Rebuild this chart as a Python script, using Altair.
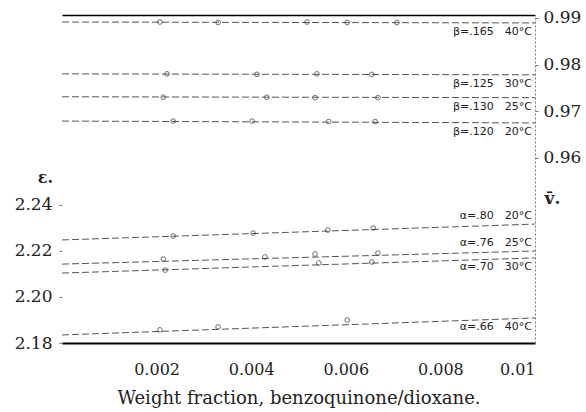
import altair as alt
import pandas as pd

X_MIN, X_MAX = 0.0, 0.01

# ---- specific volume (v-bar), right axis ----
v_temps = ["40°C", "30°C", "25°C", "20°C"]
v_beta = [".165", ".125", ".130", ".120"]
v_left = [0.9891, 0.9780, 0.9731, 0.9679]
v_right = [0.9889, 0.9778, 0.9729, 0.9675]

v_pt_temp = ["40°C"] * 5 + ["30°C"] * 4 + ["25°C"] * 4 + ["20°C"] * 4
v_pt_x = [0.00207, 0.00330, 0.00518, 0.00603, 0.00708,
          0.00222, 0.00412, 0.00539, 0.00655,
          0.00214, 0.00433, 0.00535, 0.00668,
          0.00235, 0.00402, 0.00564, 0.00662]
v_pt_val = [0.9891, 0.9890, 0.9891, 0.9890, 0.9890,
            0.9780, 0.9779, 0.9780, 0.9779,
            0.9730, 0.9730, 0.9729, 0.9729,
            0.9679, 0.9679, 0.9678, 0.9678]

# ---- dielectric constant (epsilon), left axis ----
e_temps = ["20°C", "25°C", "30°C", "40°C"]
e_alpha = [".80", ".76", ".70", ".66"]
e_left = [2.2248, 2.2143, 2.2104, 2.1835]
e_right = [2.2317, 2.2200, 2.2170, 2.1909]
e_label_above = [True, True, False, False]

e_pt_temp = ["20°C"] * 4 + ["25°C"] * 4 + ["30°C"] * 3 + ["40°C"] * 3
e_pt_x = [0.00235, 0.00404, 0.00562, 0.00658,
          0.00214, 0.00429, 0.00535, 0.00668,
          0.00218, 0.00543, 0.00655,
          0.00207, 0.00330, 0.00603]
e_pt_val = [2.2265, 2.2278, 2.2291, 2.2300,
            2.2165, 2.2174, 2.2187, 2.2191,
            2.2117, 2.2148, 2.2152,
            2.1857, 2.1870, 2.1900]

x_ticks = [0.002, 0.004, 0.006, 0.008, 0.01]
v_ticks = [0.96, 0.97, 0.98, 0.99]
e_ticks = [2.18, 2.20, 2.22, 2.24]

SERIF = "DejaVu Serif"
LINE_COLOR = "#555555"

v_lines = pd.DataFrame({"temp": v_temps * 2,
                        "x": [X_MIN] * 4 + [X_MAX] * 4,
                        "v": v_left + v_right})
v_pts = pd.DataFrame({"temp": v_pt_temp, "x": v_pt_x, "v": v_pt_val})
v_lab = pd.DataFrame({"x": [X_MAX] * 4, "v": v_right,
                      "label": [f"β={b}\u2003{t}" for b, t in zip(v_beta, v_temps)]})

e_lines = pd.DataFrame({"temp": e_temps * 2,
                        "x": [X_MIN] * 4 + [X_MAX] * 4,
                        "eps": e_left + e_right})
e_pts = pd.DataFrame({"temp": e_pt_temp, "x": e_pt_x, "eps": e_pt_val})
e_lab = pd.DataFrame({"x": [X_MAX] * 4, "eps": e_right, "above": e_label_above,
                      "label": [f"α={a}\u2003{t}" for a, t in zip(e_alpha, e_temps)]})

x_scale = alt.Scale(domain=[X_MIN, X_MAX], nice=False, zero=False)

X_top = alt.X("x:Q", scale=x_scale,
              axis=alt.Axis(orient="top", labels=False, ticks=False, grid=False,
                            domain=True, domainColor="black", domainWidth=1.5, title=None))
X_bot = alt.X("x:Q", scale=x_scale,
              axis=alt.Axis(orient="bottom", values=x_ticks,
                            labelExpr="datum.value == 0.01 ? '0.01' : format(datum.value, '.3f')",
                            labelFont=SERIF, labelFontSize=16, labelColor="#222",
                            labelPadding=18, ticks=False, grid=False,
                            domain=True, domainColor="black", domainWidth=2,
                            title="Weight fraction, benzoquinone/dioxane.",
                            titleFont=SERIF, titleFontSize=18, titleFontWeight="normal",
                            titleColor="#222", titleY=55, titleBaseline="middle"))

Y_v = alt.Y("v:Q", scale=alt.Scale(domain=[0.9204, 0.9906], nice=False, zero=False),
            axis=alt.Axis(orient="right", values=v_ticks, format=".2f",
                          labelFont=SERIF, labelFontSize=17, labelColor="#222",
                          labelPadding=5, tickSize=3, tickColor="#777", grid=False,
                          domain=True, domainColor="#777", domainDash=[2, 2],
                          title="v\u0304.", titleAngle=0, titleX=9, titleY=183,
                          titleAlign="left", titleBaseline="middle",
                          titleFont=SERIF, titleFontSize=17, titleFontWeight="bold",
                          titleColor="#222"))
Y_e = alt.Y("eps:Q", scale=alt.Scale(domain=[2.18, 2.3226], nice=False, zero=False),
            axis=alt.Axis(orient="left", values=e_ticks, format=".2f",
                          labelFont=SERIF, labelFontSize=17, labelColor="#222",
                          labelPadding=7, tickSize=3, tickColor="#777", grid=False,
                          domain=False,
                          title="ε.", titleAngle=0, titleX=-17, titleY=162,
                          titleAlign="center", titleBaseline="middle",
                          titleFont=SERIF, titleFontSize=16, titleFontWeight="bold",
                          titleColor="#222"))

v_line_layer = alt.Chart(v_lines).mark_line(color=LINE_COLOR, strokeWidth=1, strokeDash=[7, 3]).encode(
    x=X_top, y=Y_v, detail="temp:N")
v_pt_layer = alt.Chart(v_pts).mark_point(shape="circle", filled=False, color="#333",
                                         size=22, strokeWidth=1).encode(x=X_top, y=Y_v)
v_lab_layer = alt.Chart(v_lab).mark_text(align="right", baseline="top", dx=-3, dy=3,
                                         font="DejaVu Sans", fontSize=11, color="#222").encode(
    x=X_top, y=Y_v, text="label:N")
v_group = alt.layer(v_line_layer, v_pt_layer, v_lab_layer)

e_line_layer = alt.Chart(e_lines).mark_line(color=LINE_COLOR, strokeWidth=1, strokeDash=[7, 3]).encode(
    x=X_bot, y=Y_e, detail="temp:N")
e_pt_layer = alt.Chart(e_pts).mark_point(shape="circle", filled=False, color="#333",
                                         size=22, strokeWidth=1).encode(x=X_bot, y=Y_e)
e_lab_above = alt.Chart(e_lab).transform_filter("datum.above").mark_text(
    align="right", baseline="bottom", dx=-3, dy=-3,
    font="DejaVu Sans", fontSize=11, color="#222").encode(x=X_bot, y=Y_e, text="label:N")
e_lab_below = alt.Chart(e_lab).transform_filter("!datum.above").mark_text(
    align="right", baseline="top", dx=-3, dy=3,
    font="DejaVu Sans", fontSize=11, color="#222").encode(x=X_bot, y=Y_e, text="label:N")
e_group = alt.layer(e_line_layer, e_pt_layer, e_lab_above, e_lab_below)

chart = alt.layer(v_group, e_group).resolve_scale(y="independent").resolve_axis(
    x="independent", y="independent"
).properties(
    width=473, height=328,
    padding={"left": 62, "top": 15, "right": 51, "bottom": 69},
    autosize=alt.AutoSizeParams(type="none"),
    background="white",
).configure_view(stroke=None)

chart.save("out.html", embed_options={"renderer": "svg", "actions": False})
